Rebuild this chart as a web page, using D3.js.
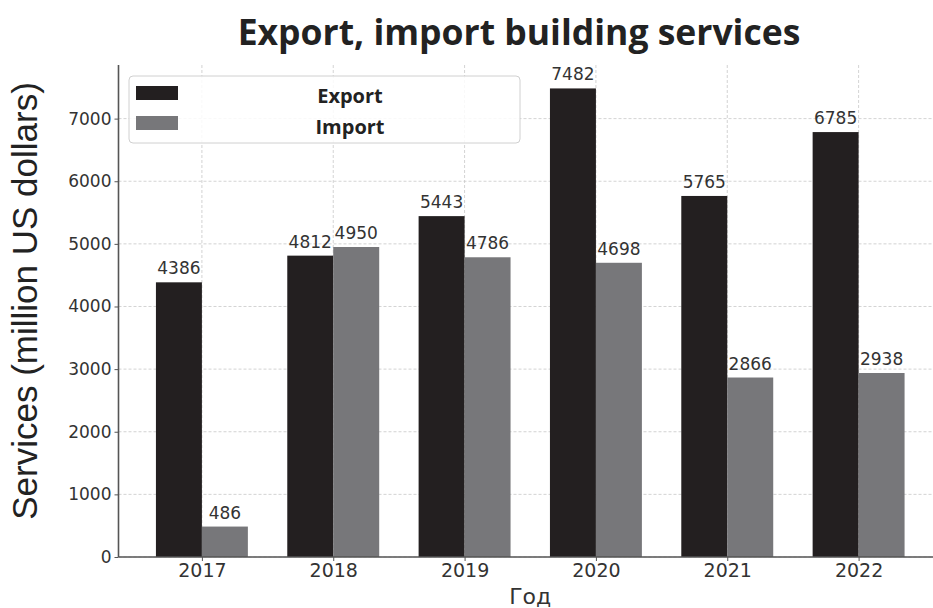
<!DOCTYPE html>
<html>
<head>
<meta charset="utf-8">
<script src="https://cdn.jsdelivr.net/npm/d3@7"></script>
<style>
  body { margin: 0; background: #fff; }
  svg { display: block; }
</style>
</head>
<body>
<svg id="chart" width="933" height="608"></svg>
<script>
const years = ['2017', '2018', '2019', '2020', '2021', '2022'];
const exportVals = [4386, 4812, 5443, 7482, 5765, 6785];
const importVals = [486, 4950, 4786, 4698, 2866, 2938];
const yTicks = [0, 1000, 2000, 3000, 4000, 5000, 6000, 7000];
const seriesNames = ['Export', 'Import'];
const seriesColors = ['#231f20', '#77777a'];

const svg = d3.select('#chart');
const plotLeft = 118.5, plotBottom = 557, plotTop = 65;
const barW = 0.35;

// matplotlib-like limits: data span plus 5% margins
const x = d3.scaleLinear().domain([-0.635, years.length - 1 + 0.635]).range([plotLeft, 942]);
const y = d3.scaleLinear().domain([0, d3.max(exportVals.concat(importVals)) * 1.05]).range([plotBottom, plotTop]);

const grid = svg.append('g').attr('stroke', '#c8c8c8').attr('stroke-dasharray', '3,2').attr('stroke-width', 0.8);
yTicks.forEach(t => {
    grid.append('line').attr('x1', plotLeft).attr('x2', 933).attr('y1', y(t)).attr('y2', y(t));
});
years.forEach((yr, i) => {
    grid.append('line').attr('x1', x(i)).attr('x2', x(i)).attr('y1', plotTop).attr('y2', plotBottom);
});

const series = [exportVals, importVals];
series.forEach((vals, s) => {
    const off = s === 0 ? -barW : 0;
    svg.append('g').selectAll('rect').data(vals).join('rect')
        .attr('x', (d, i) => x(i + off))
        .attr('width', x(barW) - x(0))
        .attr('y', d => y(d))
        .attr('height', d => plotBottom - y(d))
        .attr('fill', seriesColors[s]);
    svg.append('g').selectAll('text').data(vals).join('text')
        .attr('x', (d, i) => x(i + off + barW / 2))
        .attr('y', d => y(d) - 8)
        .attr('text-anchor', 'middle')
        .attr('font-family', 'DejaVu Sans')
        .attr('font-size', 17)
        .attr('fill', '#333')
        .text(d => d);
});

// axes
const yAxis = d3.axisLeft(y).tickValues(yTicks).tickFormat(d3.format('d')).tickSize(4).tickPadding(3);
const gy = svg.append('g').attr('transform', `translate(${plotLeft},0)`).call(yAxis);
const xAxis = d3.axisBottom(x).tickValues(d3.range(years.length)).tickFormat(i => years[i]).tickSize(4).tickPadding(3);
const gx = svg.append('g').attr('transform', `translate(0,${plotBottom})`).call(xAxis);
[gx, gy].forEach(g => {
    g.select('.domain').attr('stroke', '#555').attr('stroke-width', 1.6);
    g.selectAll('.tick line').attr('stroke', '#555');
    g.selectAll('.tick text').attr('font-family', 'DejaVu Sans').attr('fill', '#333');
});
gy.selectAll('.tick text').attr('font-size', 17);
gx.selectAll('.tick text').attr('font-size', 19);
gy.select('.domain').attr('d', `M0,${plotTop}V${plotBottom}`);
gx.select('.domain').attr('d', `M${plotLeft},0H933`);

// titles
svg.append('text')
    .attr('x', 519).attr('y', 45)
    .attr('text-anchor', 'middle')
    .attr('font-family', 'Open Sans').attr('font-weight', 'bold').attr('font-size', 35.5)
    .attr('fill', '#222')
    .text('Export, import building services');
svg.append('text')
    .attr('transform', `translate(37,301) rotate(-90)`)
    .attr('text-anchor', 'middle')
    .attr('font-family', 'Liberation Sans').attr('font-size', 35)
    .attr('fill', '#222')
    .text('Services (million US dollars)');
svg.append('text')
    .attr('x', x((years.length - 1) / 2)).attr('y', 604)
    .attr('text-anchor', 'middle')
    .attr('font-family', 'DejaVu Sans').attr('font-size', 22)
    .attr('fill', '#333')
    .text('Год');

// legend
const lg = svg.append('g');
lg.append('rect').attr('x', 129).attr('y', 76).attr('width', 391).attr('height', 67)
    .attr('rx', 4).attr('fill', '#fff').attr('fill-opacity', 0.85)
    .attr('stroke', '#d0d0d0').attr('stroke-width', 1);
seriesNames.forEach((n, i) => {
    lg.append('rect').attr('x', 136).attr('y', 86 + i * 30).attr('width', 42).attr('height', 14)
        .attr('fill', seriesColors[i]);
    lg.append('text').attr('x', 350).attr('y', 103 + i * 31)
        .attr('text-anchor', 'middle')
        .attr('font-family', 'Open Sans').attr('font-weight', 'bold').attr('font-size', 20)
        .attr('fill', '#222')
        .text(n);
});
</script>
</body>
</html>
